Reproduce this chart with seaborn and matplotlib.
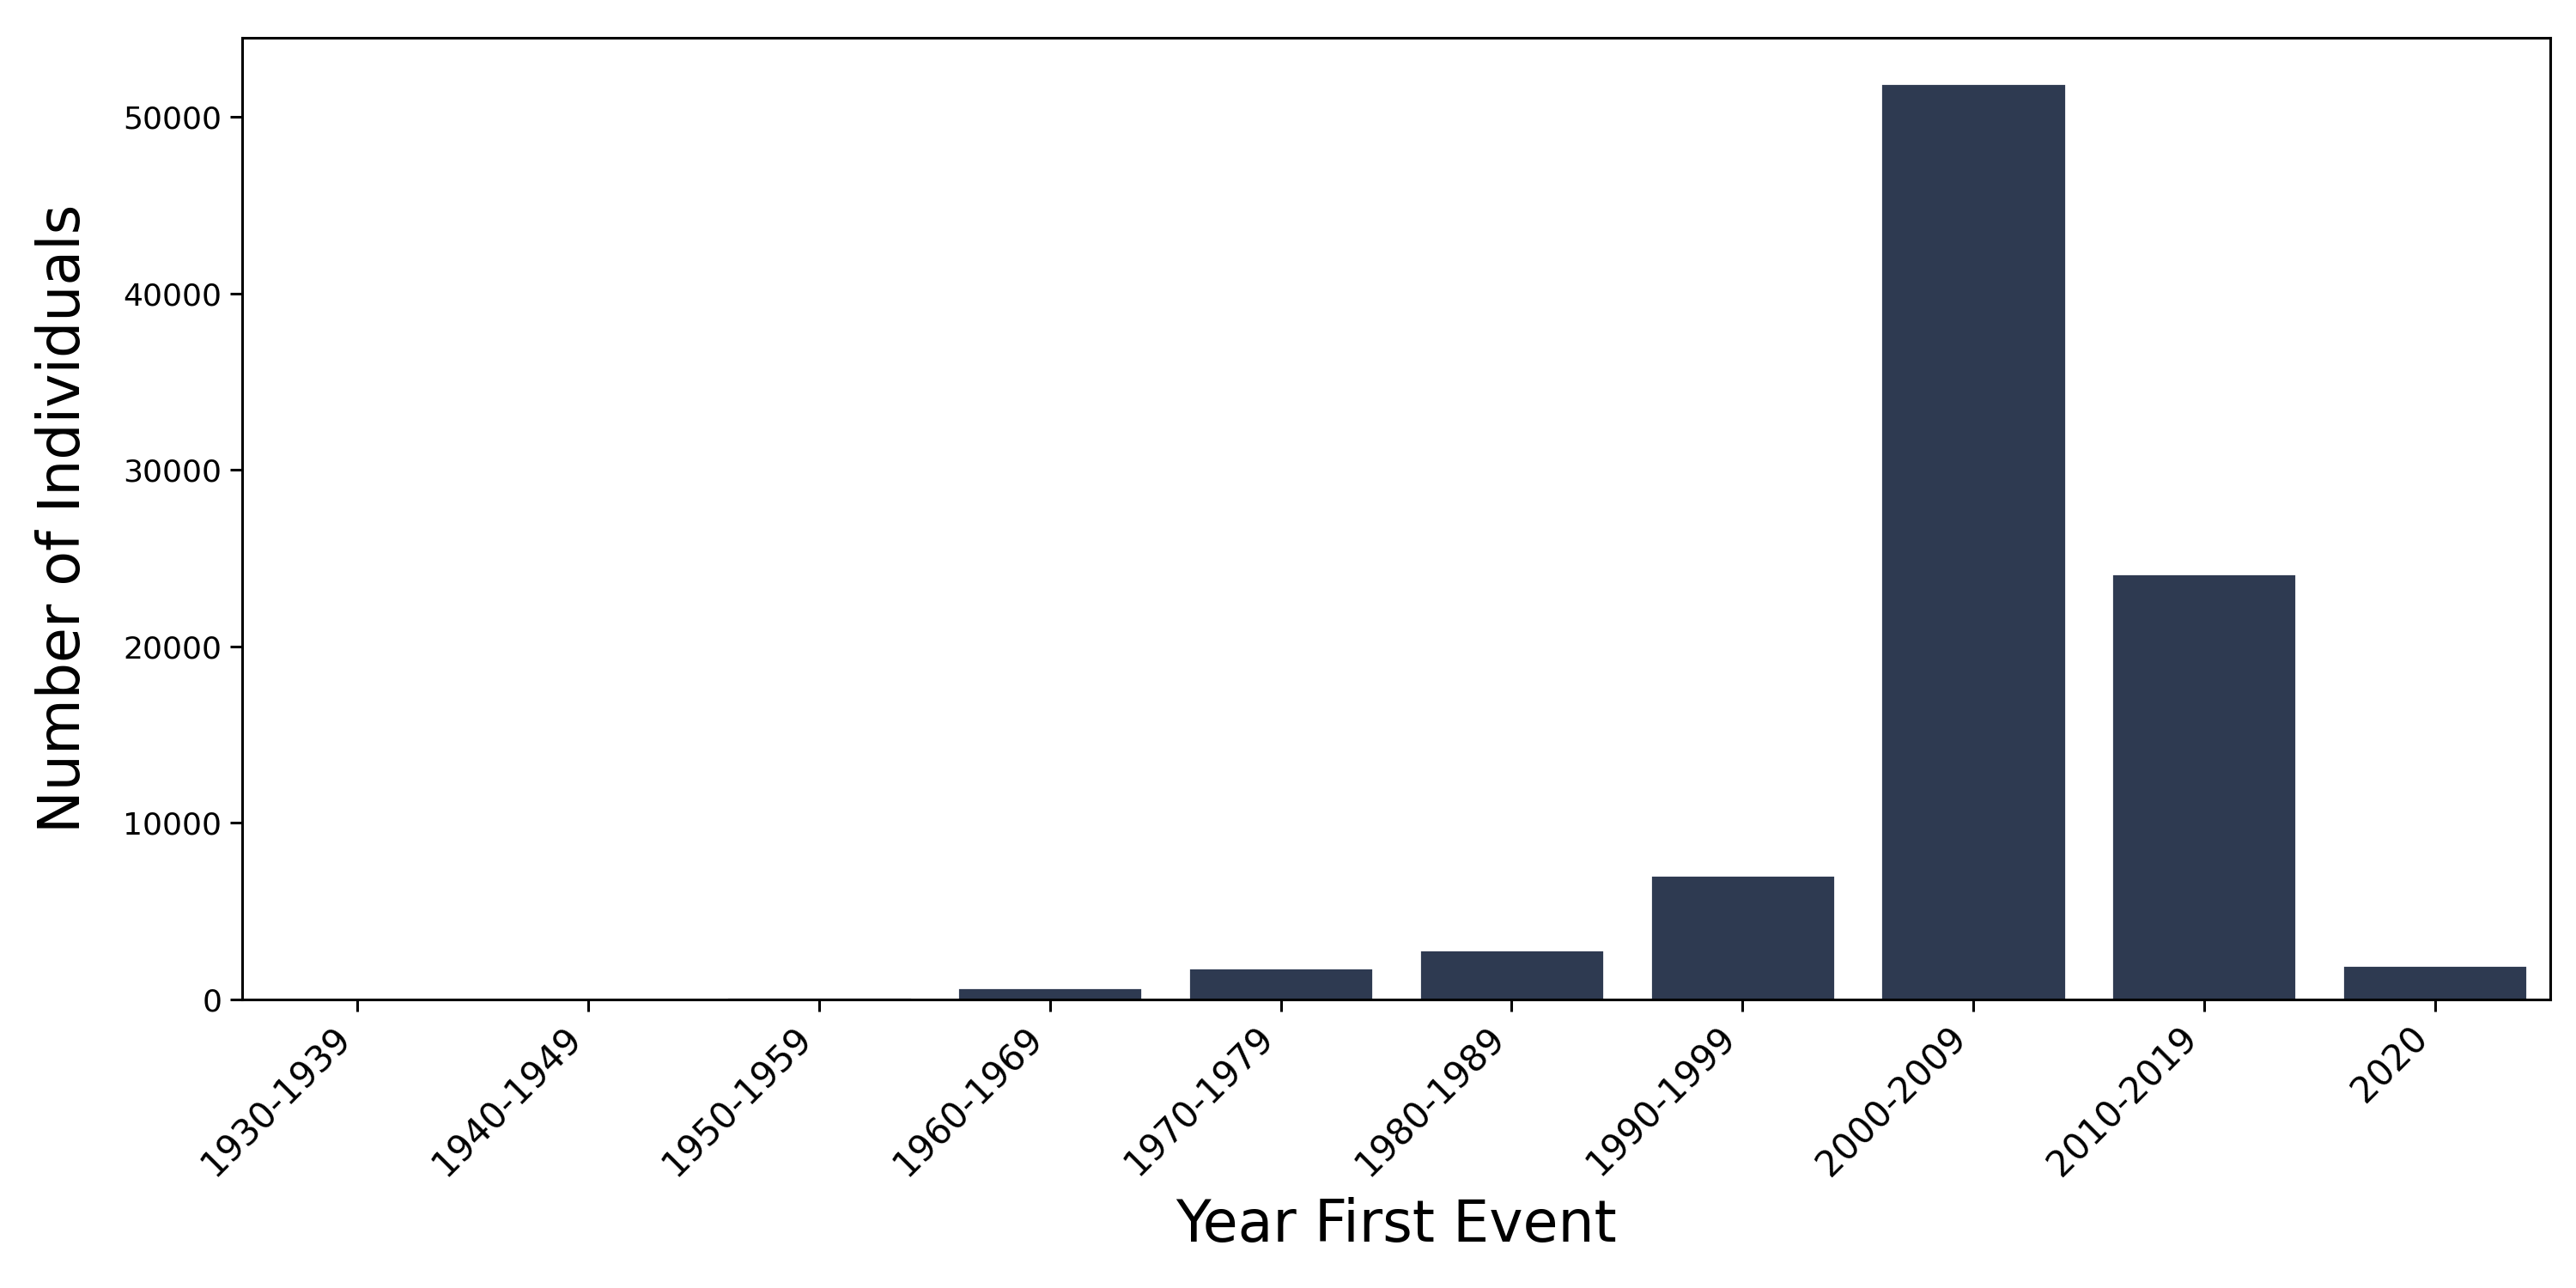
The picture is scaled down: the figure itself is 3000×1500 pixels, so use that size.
import matplotlib
matplotlib.use("Agg")
import matplotlib.pyplot as plt
import seaborn as sns
import pandas as pd

categories = ["1930-1939", "1940-1949", "1950-1959", "1960-1969", "1970-1979",
              "1980-1989", "1990-1999", "2000-2009", "2010-2019", "2020"]
counts = [5, 10, 130, 700, 1790, 2820, 7030, 51900, 24100, 1960]

df = pd.DataFrame({"Year First Event": categories, "Number of Individuals": counts})

sns.set_style("ticks")
plt.rcParams['font.family'] = ['DejaVu Sans']

fig, ax = plt.subplots(figsize=(15, 7.5), dpi=200)
sns.barplot(data=df, x="Year First Event", y="Number of Individuals",
            color="#2e3a51", saturation=1, ax=ax, order=categories)
ax.set_xlabel("Year First Event", fontsize=24, labelpad=6)
ax.set_ylabel("Number of Individuals", fontsize=24, labelpad=13)
ax.tick_params(axis='x', labelsize=15, length=5, width=1.1, color='black', labelcolor='black')
ax.tick_params(axis='y', labelsize=13, length=5, width=1.1, color='black', labelcolor='black')
plt.setp(ax.get_xticklabels(), rotation=45, ha='right', rotation_mode='default')
for s in ax.spines.values():
    s.set_visible(True)
    s.set_color("black")
    s.set_linewidth(1.1)
ax.xaxis.label.set_color('black')
ax.yaxis.label.set_color('black')
fig.subplots_adjust(left=0.094, right=0.990, bottom=0.224, top=0.971)
fig.savefig("out.png", dpi=200)
